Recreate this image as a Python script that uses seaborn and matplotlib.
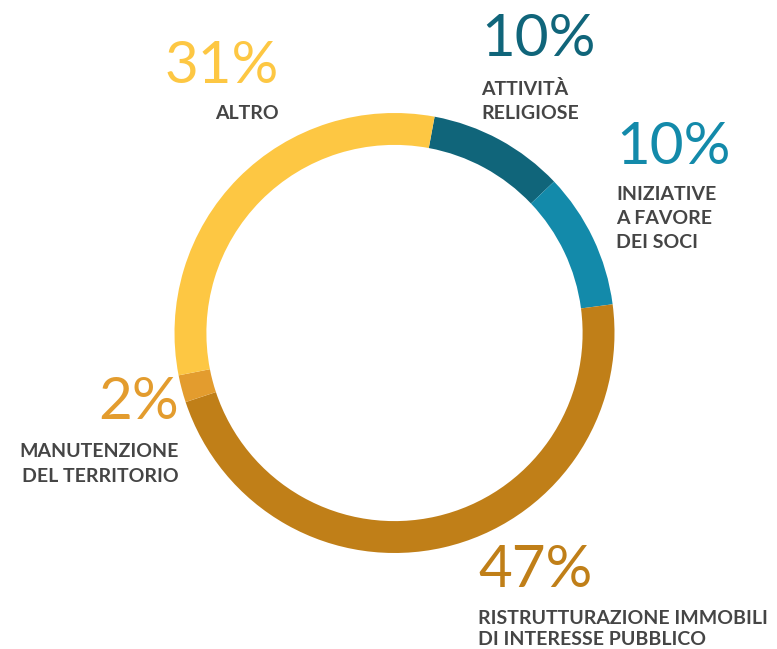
import matplotlib.pyplot as plt
import seaborn as sns

# data
labels = ['ATTIVITÀ\nRELIGIOSE', 'INIZIATIVE\nA FAVORE\nDEI SOCI',
          'RISTRUTTURAZIONE IMMOBILI\nDI INTERESSE PUBBLICO',
          'MANUTENZIONE\nDEL TERRITORIO', 'ALTRO']
values = [10, 10, 47, 2, 31]
colors = ['#10657a', '#138aaa', '#c07f18', '#e39c2e', '#fdc743']

sns.set_theme(style='white')
plt.rcParams['font.family'] = ['Lato', 'DejaVu Sans']

W, H = 777, 649
fig = plt.figure(figsize=(W / 100, H / 100), dpi=100)
fig.patch.set_facecolor('white')

# donut: center (394, 333) px, radius 220 px
cx, cy, r = 394.5, 333, 220
ax = fig.add_axes([(cx - r) / W, 1 - (cy + r) / H, 2 * r / W, 2 * r / H])
ax.pie(values, colors=sns.color_palette(colors), startangle=79.5, counterclock=False,
       radius=1, wedgeprops=dict(width=0.145, linewidth=0))
ax.set_xlim(-1, 1)
ax.set_ylim(-1, 1)
ax.set_aspect('equal')
ax.axis('off')

# label positions (pixel x, pct baseline y, label first baseline y, line gap, alignment)
spots = [
    (481, 56, 95, 24, 'left'),
    (616, 164, 200, 24, 'left'),
    (478, 587, 624, 21, 'left'),
    (179, 419, 457, 25, 'right'),
    (279, 83, 119, 24, 'right'),
]

for (lab, v, col, (x, yp, yl, gap, ha)) in zip(labels, values, colors, spots):
    fig.text(x / W, 1 - yp / H, f'{v}%', color=col, fontsize=42, fontweight='normal',
             ha=ha, va='baseline')
    lines = lab.split('\n')
    for i, line in enumerate(lines):
        fig.text(x / W, 1 - (yl + i * gap) / H, line, color='#454545', fontsize=14,
                 fontweight='bold', ha=ha, va='baseline')

fig.savefig('out.png', dpi=100, facecolor='white')
